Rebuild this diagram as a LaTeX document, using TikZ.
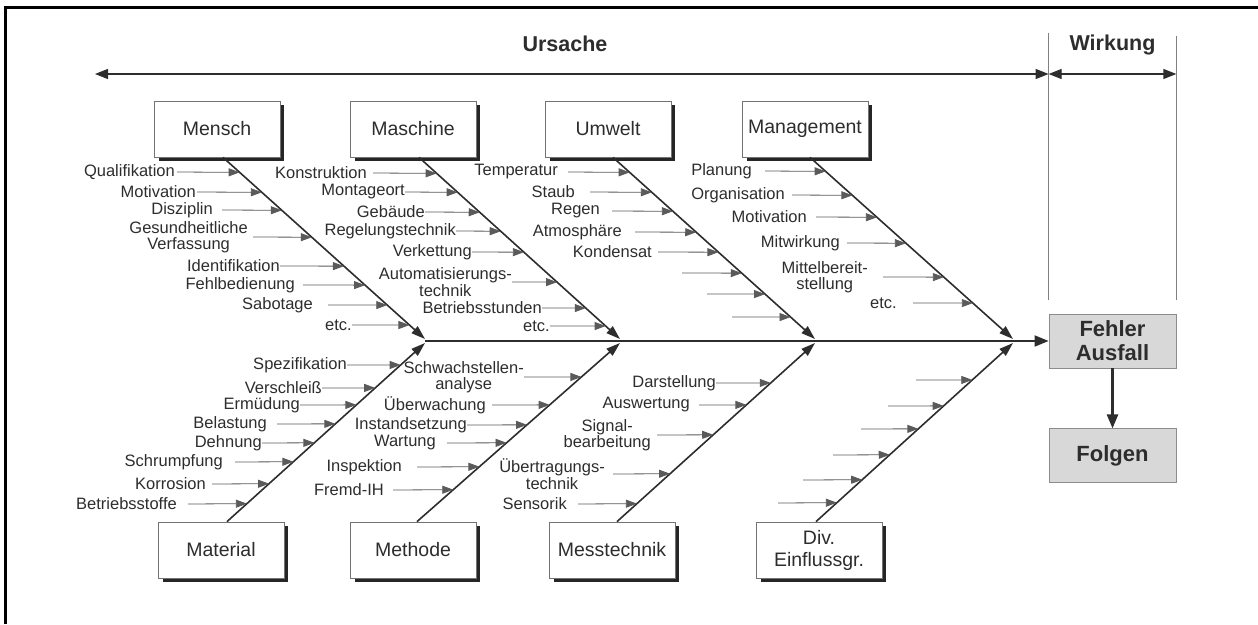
\documentclass[tikz,border=0pt]{standalone}
\usepackage{fontspec}
\setmainfont{Liberation Sans}
\usetikzlibrary{arrows.meta,positioning,calc}
\definecolor{inkGray}{RGB}{45,45,45}
\definecolor{ribGray}{RGB}{90,90,90}
\definecolor{boxGray}{RGB}{216,216,216}

\newcommand{\topribs}[2]{%
  \foreach \y/\g/\xt/\txt [evaluate=\y as \f using (\y-157)/182] in {#2}{
    \node[lab] (l) at (\xt,\y) {\txt};
    \draw[rib] ([xshift=\g pt]l.east) -- ($(#1-s)!\f!(#1-j)$);
  }}
\newcommand{\botribs}[2]{%
  \foreach \y/\g/\xt/\txt [evaluate=\y as \f using (522-\y)/179] in {#2}{
    \node[lab] (l) at (\xt,\y) {\txt};
    \draw[rib] ([xshift=\g pt]l.east) -- ($(#1-s)!\f!(#1-j)$);
  }}

\begin{document}
\begin{tikzpicture}[
    x=1pt, y=-1pt,
    cause/.style={
        rectangle, draw=black!55, line width=0.8pt, fill=white,
        text=inkGray, font=\fontsize{19.5}{22}\selectfont,
        align=center, minimum width=126pt, minimum height=56pt
    },
    boxshadow/.style={fill=black!85},
    effect/.style={
        rectangle, draw=black!45, line width=0.8pt, fill=boxGray,
        text=inkGray, font=\bfseries\fontsize{22}{24}\selectfont,
        align=center, minimum width=127pt, minimum height=54pt
    },
    lab/.style={anchor=east, inner sep=0pt, align=center, text=inkGray,
        font=\fontsize{16.5}{16.5}\selectfont},
    head/.style={text=inkGray, font=\bfseries\fontsize{21.5}{24}\selectfont},
    rib/.style={draw=ribGray, line width=0.8pt, -{Triangle[length=11pt,width=8pt]}},
    bone/.style={draw=inkGray, line width=1.6pt, -{Triangle[length=14pt,width=9pt]}},
    arrow/.style={draw=inkGray, line width=1.8pt, -{Triangle[length=14pt,width=11pt]}},
    span/.style={draw=inkGray, line width=1.2pt,
        {Triangle[length=13pt,width=10pt]}-{Triangle[length=13pt,width=10pt]}},
    divider/.style={draw=black!50, line width=0.8pt}
]
\useasboundingbox (0,0) rectangle (1258,624);
\draw[line width=3pt] (5.5,624) -- (5.5,7) -- (1258,7);

\foreach \nm/\txt/\cx/\sh/\jx in {mensch/Mensch/217/6/425, maschine/Maschine/413/6/620,
    umwelt/Umwelt/608/5/815, management/Management/805/5/1013}{
  \fill[boxshadow] (\cx-58,105) rectangle (\cx+67,161);
  \node[cause] (\nm) at (\cx,129) {\txt};
  \coordinate (\nm-s) at ([xshift=\sh pt]\nm.south);
  \coordinate (\nm-j) at (\jx,339);
}
\foreach \nm/\txt/\cx/\sh/\jx in {material/Material/221/6/425, methode/Methode/413/4/620,
    messtechnik/Messtechnik/612/5/815, div/{Div.\\Einflussgr.}/819/-3/1013}{
  \fill[boxshadow] (\cx-58,526) rectangle (\cx+67,582);
  \node[cause] (\nm) at (\cx,550) {\txt};
  \coordinate (\nm-s) at ([xshift=\sh pt]\nm.north);
  \coordinate (\nm-j) at (\jx,343);
}

\node[effect] (fehler) at (1112.5,341) {Fehler\\Ausfall};
\node[effect, below=60pt of fehler] (folgen) {Folgen};

\coordinate (uleft) at (95,74);
\coordinate (spine) at (425,341);
\draw[span] (uleft) -- (uleft -| fehler.west);
\draw[span] (uleft -| fehler.west) -- (uleft -| fehler.east);
\draw[divider] (fehler.west |- 0,33) -- (fehler.west |- 0,300);
\draw[divider] (fehler.east |- 0,36) -- (fehler.east |- 0,300);
\node[head] (ursache) at (565,44) {Ursache};
\node[head] (wirkung) at (fehler.center |- 0,45) {Wirkung};

\foreach \nm in {mensch,maschine,umwelt,management,material,methode,messtechnik,div}
  \draw[bone] (\nm-s) -- (\nm-j);
\draw[arrow] (spine) -- (fehler.west);
\draw[arrow, line width=2.6pt] (fehler) -- (folgen);

\topribs{mensch}{172/2/175/Qualifikation, 192/1/196/Motivation, 210/9/213/Disziplin,
  237/5/248/{Gesundheitliche\\Verfassung}, 266/0/280/Identifikation,
  285/8/295/Fehlbedienung, 305/15/313/Sabotage, 325/0/352/etc.}
\topribs{maschine}{173/6/367/Konstruktion, 192/0/405/Montageort, 212/0/425/Gebäude,
  231/0/456/Regelungstechnik, 252/0/472/Verkettung,
  282/0/512/{Automatisierungs-\\technik}, 308/0/542/Betriebsstunden, 326/0/550/etc.}
\topribs{umwelt}{172/10/558/Temperatur, 192/15/575/Staub, 211/12/600/Regen,
  232/13/622/Atmosphäre, 252/6/652/Kondensat, 273/0/682/{}, 294/0/707/{}, 317/0/732/{}}
\topribs{management}{171/13/752/Planung, 195/7/785/Organisation, 217/9/807/Motivation,
  243/7/840/Mitwirkung, 277/15/868/{Mittelbereit-\\stellung}, 303/16/897/etc.}

\botribs{material}{365/0/347/Spezifikation, 388/0/322/Verschleiß, 405/0/300/Ermüdung,
  424/10/267/Belastung, 443/0/262/Dehnung, 462/12/223/Schrumpfung,
  484/6/206/Korrosion, 504/11/177/Betriebsstoffe}
\botribs{methode}{377/0/524/{Schwachstellen-\\analyse}, 405/6/486/Überwachung,
  425/0/467/Instandsetzung, 443/11/436/Wartung, 467/15/402/Inspektion, 490/9/384/Fremd-IH}
\botribs{messtechnik}{383/0/716/Darstellung, 405/9/690/Auswertung,
  435/6/651/{Signal-\\bearbeitung}, 474/8/605/{Übertragungs-\\technik}, 504/11/567/Sensorik}
\botribs{div}{380/0/916/{}, 406/0/888/{}, 429/0/861/{}, 455/0/833/{}, 480/0/803/{}, 503/0/778/{}}

\end{tikzpicture}
\end{document}
